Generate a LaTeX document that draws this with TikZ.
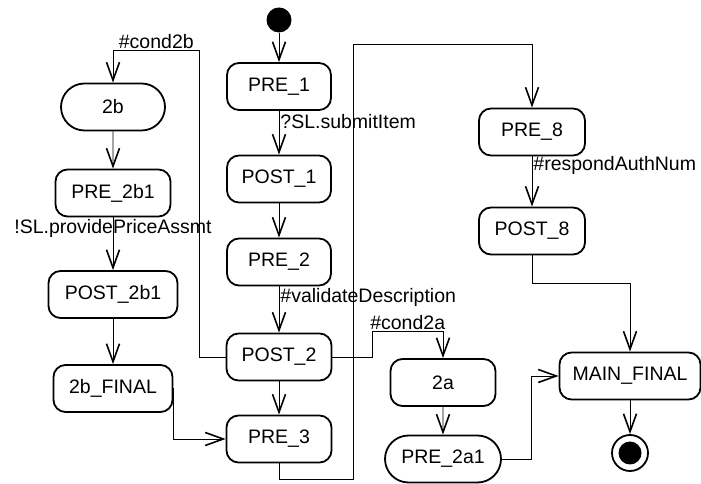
\documentclass[tikz,border=0pt]{standalone}
\usepackage{fontspec}
\setmainfont{Liberation Sans}
\usepackage{tikz}
\usetikzlibrary{shapes.misc, arrows.meta, calc}

\begin{document}
\begin{tikzpicture}[
    x=1pt, y=1pt,
    font=\fontsize{19.5}{22}\selectfont,
    state/.style={rectangle, rounded corners=12pt, draw, line width=1.8pt, minimum height=47pt, inner sep=0pt, align=center},
    pill/.style={rounded rectangle, draw, line width=1.8pt, minimum height=47pt, inner sep=0pt, align=center},
    startstate/.style={circle, fill=black, minimum size=25pt, inner sep=0pt},
    endstate/.style={circle, draw, line width=1.8pt, minimum size=36pt, inner sep=0pt},
    flow/.style={-{Straight Barb[length=18pt, width=13pt, line width=1.6pt]}, line width=0.9pt},
    guard/.style={inner sep=1pt}
]
    \useasboundingbox (0,0) rectangle (701,484);

    % Main flow
    \node[startstate] (init) at (279,464) {};
    \node[state, minimum width=104pt] (pre1) at (279,397.5) {PRE\_1};
    \node[state, minimum width=104pt] (post1) at (279,305) {POST\_1};
    \node[state, minimum width=104pt] (pre2) at (279,222) {PRE\_2};
    \node[state, minimum width=105pt] (post2) at (279,127) {POST\_2};
    \node[state, minimum width=105pt] (pre3) at (279,45) {PRE\_3};

    % Branch 2b
    \node[pill, minimum width=104pt] (s2b) at (113,377) {2b};
    \node[state, minimum width=115pt] (pre2b1) at (113,291) {PRE\_2b1};
    \node[state, minimum width=129pt] (post2b1) at (113,189.5) {POST\_2b1};
    \node[state, minimum width=119pt] (fin2b) at (113,95.5) {2b\_FINAL};

    % Branch 8
    \node[state, minimum width=106pt] (pre8) at (532,352) {PRE\_8};
    \node[state, minimum width=106pt] (post8) at (532,253) {POST\_8};

    % Branch 2a and end
    \node[state, minimum width=105pt] (s2a) at (443,101.5) {2a};
    \node[pill, minimum width=116pt] (pre2a1) at (443,25) {PRE\_2a1};
    \node[state, minimum width=141pt] (mainfin) at (630,108) {MAIN\_FINAL};
    \node[endstate] (final) at (630,31) {};
    \fill (final.center) circle (11.5pt);

    % Transitions
    \draw[flow] (init) -- (pre1);
    \draw[flow] (pre1) -- node[guard, pos=0.25, anchor=west] {?SL.submitItem} (post1);
    \draw[flow] (post1) -- (pre2);
    \draw[flow] (pre2) -- node[guard, pos=0.23, anchor=west] {\#validateDescription} (post2);
    \draw[flow] (post2) -- (pre3);

    \draw[flow] (post2.west) -- ++(-26,0) -- ++(0,307) -| node[guard, pos=0.25, above] {\#cond2b} (s2b.north);
    \draw[flow] (s2b) -- (pre2b1);
    \draw[flow] (pre2b1) -- node[guard, pos=0.21] {!SL.providePriceAssmt} (post2b1);
    \draw[flow] (post2b1) -- (fin2b);
    \draw[flow] (fin2b.east) |- (pre3.west);

    \draw[flow] (pre3.south) -- ++(0,-16) -- ++(74,0) -- ++(0,435) -| (pre8.north);
    \draw[flow] (pre8) -- node[guard, pos=0.18, anchor=west] {\#respondAuthNum} (post8);
    \draw[flow] (post8.south) -- ++(0,-28) -| (mainfin.north);

    \draw[flow] (post2.east) -- ++(40,0) -- ++(0,26) -| node[guard, pos=0.25, above] {\#cond2a} (s2a.north);
    \draw[flow] (s2a) -- (pre2a1);
    \draw[flow] (pre2a1.east) -- ++(30,0) |- (mainfin.west);
    \draw[flow] (mainfin) -- (final);

\end{tikzpicture}
\end{document}
